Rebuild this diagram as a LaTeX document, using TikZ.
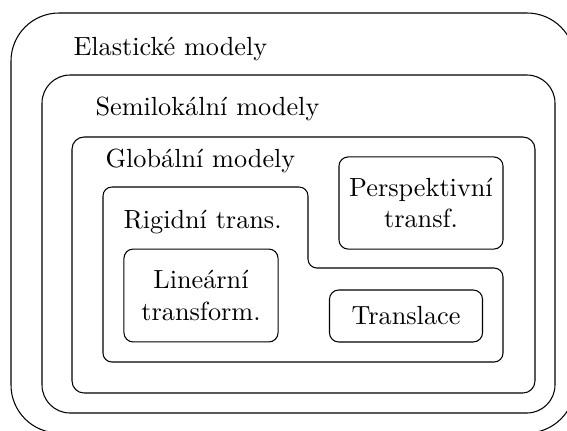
\documentclass[tikz,border=0pt]{standalone}
\begin{document}
\begin{tikzpicture}[x=0.381pt,y=-0.381pt,
  lbl/.style={anchor=base west, inner sep=0pt},
  ibox/.style={draw, rounded corners=3.5pt, align=center, inner sep=0pt}]
\useasboundingbox (0,0) rectangle (567,430);
\clip (0,0) rectangle (567,430);
% nested boxes
\draw[rounded corners=18.3pt] (11,13) rectangle (575,433);
\draw[rounded corners=10.7pt] (42,75) rectangle (555,413);
\draw[rounded corners=4.6pt] (72,137) rectangle (535,393);
\draw[rounded corners=3.4pt] (103,270) -- (103,187) -- (308,187) -- (308,268)
  -- (503,268) -- (503,362) -- (103,362) -- cycle;
% labels
\node[lbl] (elast) at (73,55) {Elastické modely};
\node[lbl] (semi) at (95,115) {Semilokální modely};
\node[lbl] (glob) at (105,167) {Globální modely};
\node[lbl] (rigid) at (123,228) {Rigidní trans.};
% inner boxes
\node[ibox, minimum width=58.7pt, minimum height=35.4pt] (lin) at (201,295.5) {Lineární\\transform.};
\node[ibox, minimum width=62.5pt, minimum height=35.1pt] (persp) at (421,203) {Perspektivní\\transf.};
\node[ibox, minimum width=58.3pt, minimum height=19.8pt] (transl) at (406,316) {Translace};
\end{tikzpicture}
\end{document}
